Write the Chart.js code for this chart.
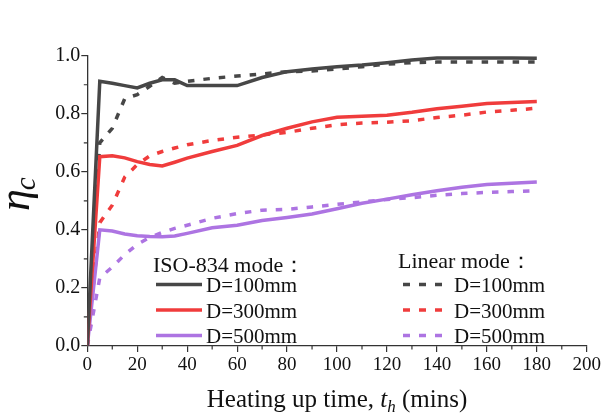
<!DOCTYPE html>
<html>
<head>
<meta charset="utf-8">
<script src="https://cdn.jsdelivr.net/npm/chart.js@4"></script>
<style>
  html, body { margin: 0; padding: 0; background: #fff; }
  #wrap { width: 603px; height: 416px; }
</style>
</head>
<body>
<div id="wrap"><canvas id="mycanvas" width="603" height="416"></canvas></div>
<script>
// heating time (mins)
var times = [0, 5, 10, 15, 20, 25, 30, 35, 40, 50, 60, 70, 80, 90, 100, 110, 120, 130, 140, 150, 160, 170, 180];

// ISO-834 mode
var iso100 = [0, 0.912, 0.905, 0.897, 0.889, 0.905, 0.917, 0.917, 0.897, 0.897, 0.897, 0.925, 0.945, 0.954, 0.962, 0.968, 0.976, 0.985, 0.992, 0.992, 0.992, 0.992, 0.991];
var iso300 = [0, 0.652, 0.655, 0.648, 0.635, 0.625, 0.620, 0.633, 0.647, 0.670, 0.691, 0.725, 0.750, 0.772, 0.788, 0.791, 0.795, 0.805, 0.817, 0.826, 0.835, 0.839, 0.842];
var iso500 = [0, 0.400, 0.396, 0.386, 0.380, 0.377, 0.376, 0.379, 0.388, 0.407, 0.416, 0.432, 0.443, 0.455, 0.473, 0.492, 0.506, 0.521, 0.535, 0.547, 0.556, 0.561, 0.565];

// Linear mode
var lin100 = [0, 0.700, 0.750, 0.852, 0.866, 0.895, 0.925, 0.905, 0.912, 0.922, 0.930, 0.937, 0.945, 0.947, 0.954, 0.962, 0.971, 0.976, 0.978, 0.978, 0.978, 0.978, 0.978];
var lin300 = [0, 0.425, 0.485, 0.582, 0.625, 0.655, 0.670, 0.682, 0.693, 0.708, 0.719, 0.727, 0.736, 0.750, 0.762, 0.768, 0.771, 0.776, 0.787, 0.795, 0.806, 0.812, 0.819];
var lin500 = [0, 0.235, 0.272, 0.315, 0.350, 0.374, 0.391, 0.405, 0.416, 0.440, 0.456, 0.468, 0.471, 0.479, 0.488, 0.496, 0.505, 0.511, 0.519, 0.525, 0.529, 0.532, 0.535];

var xTicks = [0, 20, 40, 60, 80, 100, 120, 140, 160, 180, 200];
var yTicks = [0, 0.2, 0.4, 0.6, 0.8, 1.0];
var sizeLabels = ["D=100mm", "D=300mm", "D=500mm"];

var colors = ["#474747", "#f03c3c", "#ad74e2"];
var serif = '"Liberation Serif", "Times New Roman", serif';

function pts(ys) {
  return times.map(function(t, i) { return { x: t, y: ys[i] }; });
}

var isoSets = [iso100, iso300, iso500];
var linSets = [lin100, lin300, lin500];
var datasets = [];
for (var i = 0; i < 3; i++) {
  datasets.push({
    label: "ISO-834 " + sizeLabels[i],
    data: pts(isoSets[i]),
    borderColor: colors[i],
    borderWidth: 3.5,
    pointRadius: 0,
    fill: false,
    tension: 0
  });
}
for (var i = 0; i < 3; i++) {
  datasets.push({
    label: "Linear " + sizeLabels[i],
    data: pts(linSets[i]),
    borderColor: colors[i],
    borderWidth: 3.5,
    borderDash: [6.5, 9],
    borderCapStyle: "butt",
    pointRadius: 0,
    fill: false,
    tension: 0
  });
}

// minor ticks, axis titles and the two legend blocks
var extras = {
  id: "extras",
  afterDraw: function(chart) {
    var ctx = chart.ctx;
    var xs = chart.scales.x, ys = chart.scales.y;
    var area = chart.chartArea;
    ctx.save();
    ctx.strokeStyle = "#333";
    ctx.lineWidth = 1.2;
    ctx.beginPath();
    for (var v = 10; v < 200; v += 20) {
      var px = xs.getPixelForValue(v);
      ctx.moveTo(px, area.bottom);
      ctx.lineTo(px, area.bottom + 3.5);
    }
    for (var v = 0.1; v < 1; v += 0.2) {
      var py = ys.getPixelForValue(v);
      ctx.moveTo(area.left, py);
      ctx.lineTo(area.left - 3.5, py);
    }
    ctx.stroke();

    // x title
    ctx.fillStyle = "#111";
    ctx.textBaseline = "alphabetic";
    var f1 = "25px " + serif, f2 = "italic 25px " + serif, f3 = "italic 17px " + serif;
    var parts = [["Heating up time, ", f1, 0], ["t", f2, 0], ["h", f3, 5], [" (mins)", f1, 0]];
    var total = 0;
    parts.forEach(function(p) { ctx.font = p[1]; total += ctx.measureText(p[0]).width; });
    var x = 337 - total / 2;
    parts.forEach(function(p) {
      ctx.font = p[1];
      ctx.fillText(p[0], x, 407 + p[2]);
      x += ctx.measureText(p[0]).width;
    });

    // y title, rotated
    ctx.save();
    ctx.translate(29, 211);
    ctx.rotate(-Math.PI / 2);
    ctx.font = "italic 44px " + serif;
    ctx.fillText("η", 0, 0);
    var w = ctx.measureText("η").width;
    ctx.font = "italic 29px " + serif;
    ctx.fillText("c", w - 1, 6);
    ctx.restore();

    // legends
    var rows = [284.5, 310, 335.5];
    ctx.font = "22px " + serif;
    ctx.fillText("ISO-834 mode：", 153, 272);
    ctx.fillText("Linear mode：", 398, 268);
    ctx.font = "21px " + serif;
    ctx.textBaseline = "middle";
    for (var k = 0; k < 3; k++) {
      var dsI = chart.data.datasets[k];
      var dsL = chart.data.datasets[k + 3];
      ctx.lineWidth = 3.5;
      ctx.strokeStyle = dsI.borderColor;
      ctx.setLineDash([]);
      ctx.beginPath();
      ctx.moveTo(156, rows[k]);
      ctx.lineTo(202, rows[k]);
      ctx.stroke();
      ctx.strokeStyle = dsL.borderColor;
      ctx.setLineDash([7, 9]);
      ctx.beginPath();
      ctx.moveTo(403, rows[k]);
      ctx.lineTo(442, rows[k]);
      ctx.stroke();
      ctx.setLineDash([]);
      ctx.fillStyle = "#111";
      ctx.fillText(sizeLabels[k], 206, rows[k] + 2);
      ctx.fillText(sizeLabels[k], 454, rows[k] + 2);
    }
    ctx.restore();
  }
};

var ctx = document.getElementById("mycanvas");
var chart = new Chart(ctx, {
  type: "line",
  data: { datasets: datasets },
  plugins: [extras],
  options: {
    responsive: false,
    animation: false,
    events: [],
    layout: { padding: { top: 55.7, right: 15.7, bottom: 0, left: 0 } },
    plugins: { legend: { display: false }, tooltip: { enabled: false } },
    scales: {
      x: {
        type: "linear",
        min: 0,
        max: 200,
        afterBuildTicks: function(s) { s.ticks = xTicks.map(function(v) { return { value: v }; }); },
        afterFit: function(s) { s.height = 70; },
        border: { color: "#333", width: 1.3 },
        grid: { drawOnChartArea: false, drawTicks: true, tickLength: 6, color: "#333", lineWidth: 1.2 },
        ticks: { color: "#111", padding: 2, maxRotation: 0, font: { family: serif, size: 19 } }
      },
      y: {
        type: "linear",
        min: 0,
        max: 1,
        afterBuildTicks: function(s) { s.ticks = yTicks.map(function(v) { return { value: v }; }); },
        afterFit: function(s) { s.width = 87.3; },
        border: { color: "#333", width: 1.3 },
        grid: { drawOnChartArea: false, drawTicks: true, tickLength: 6, color: "#333", lineWidth: 1.2 },
        ticks: {
          color: "#111",
          padding: 1,
          font: { family: serif, size: 20 },
          callback: function(v) { return v.toFixed(1); }
        }
      }
    }
  }
});
</script>
</body>
</html>
